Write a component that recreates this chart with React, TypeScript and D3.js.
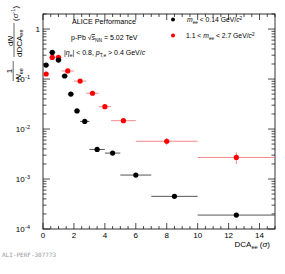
import * as d3 from 'd3';
import * as React from 'react';

// bins: [low, high], value, vertical error
const lowMassBinLo = [0, 0.4, 0.8, 1.2, 1.6, 2.0, 2.4, 3, 4, 5, 7, 10];
const lowMassBinHi = [0.4, 0.8, 1.2, 1.6, 2.0, 2.4, 3, 4, 5, 7, 10, 15];
const lowMassValue = [0.19, 0.34, 0.24, 0.115, 0.05, 0.023, 0.0142, 0.0039, 0.0033, 0.0012, 0.00045, 0.00019];
const lowMassErr = [0.005, 0.01, 0.007, 0.003, 0.0015, 0.0007, 0.0004, 0.0001, 0.0001, 0.00003, 0.00001, 0.000006];

const highMassBinLo = [0, 0.4, 0.8, 1.2, 2.0, 2.8, 3.6, 4.4, 6, 10];
const highMassBinHi = [0.4, 0.8, 1.2, 2.0, 2.8, 3.6, 4.4, 6, 10, 15];
const highMassValue = [0.126, 0.27, 0.27, 0.145, 0.091, 0.052, 0.028, 0.0147, 0.0057, 0.0027];
const highMassErr = [0.008, 0.015, 0.015, 0.008, 0.006, 0.004, 0.002, 0.0013, 0.0009, 0.0007];

const xTicks = [0, 2, 4, 6, 8, 10, 12, 14];
const yDecades = [-4, -3, -2, -1, 0];

const width = 285;
const height = 274;
const left = 43;
const right = 275;
const top = 14;
const bottom = 229;

interface IPoint {
  lo: number;
  hi: number;
  v: number;
  e: number;
}

const build = (lo: number[], hi: number[], v: number[], e: number[]): IPoint[] =>
  lo.map((l, i) => ({ lo: l, hi: hi[i], v: v[i], e: e[i] }));

const lowMass = build(lowMassBinLo, lowMassBinHi, lowMassValue, lowMassErr);
const highMass = build(highMassBinLo, highMassBinHi, highMassValue, highMassErr);

const App: React.FC = () => {
  const x = d3.scaleLinear().domain([0, 15]).range([left, right]);
  const y = d3.scaleLog().domain([1e-4, 2]).range([bottom, top]);

  const font = 'Liberation Sans, Arial, sans-serif';

  const xMinor = d3.range(0, 15.01, 0.5);
  const yMinor: number[] = [];
  for (let d = -4; d <= 0; d++) {
    for (let m = 1; m <= 9; m++) {
      const val = m * Math.pow(10, d);
      if (val <= 2) yMinor.push(val);
    }
  }

  const series = (data: IPoint[], dot: string, bar: string) =>
    data.map((p, i) => {
      const cx = x((p.lo + p.hi) / 2);
      const cy = y(p.v);
      return (
        <g key={i}>
          <line x1={x(p.lo)} x2={x(p.hi)} y1={cy} y2={cy} stroke={bar} strokeWidth={1} />
          <line x1={cx} x2={cx} y1={y(p.v - p.e)} y2={y(p.v + p.e)} stroke={bar} strokeWidth={1} />
          <circle cx={cx} cy={cy} r={2.6} fill={dot} />
        </g>
      );
    });

  return (
    <svg width={width} height={height} style={{ position: 'absolute', left: 0, top: 0, background: '#fff' }}>
      {/* frame */}
      <rect x={left} y={top} width={right - left} height={bottom - top} fill="none" stroke="#000" strokeWidth={0.8} />

      {/* x ticks */}
      {xMinor.map((t) => {
        const major = Math.abs(t % 2) < 1e-6;
        const len = major ? 6 : 3;
        return (
          <g key={'xt' + t}>
            <line x1={x(t)} x2={x(t)} y1={bottom} y2={bottom - len} stroke="#000" strokeWidth={0.7} />
            <line x1={x(t)} x2={x(t)} y1={top} y2={top + len} stroke="#000" strokeWidth={0.7} />
          </g>
        );
      })}
      {xTicks.map((t) => (
        <text key={'xl' + t} x={x(t)} y={bottom + 9} fontSize={8} fontFamily={font} textAnchor="middle">
          {t}
        </text>
      ))}

      {/* y ticks */}
      {yMinor.map((t, i) => {
        const major = Math.abs(Math.log10(t) - Math.round(Math.log10(t))) < 1e-6;
        const len = major ? 7 : 3.5;
        return (
          <g key={'yt' + i}>
            <line x1={left} x2={left + len} y1={y(t)} y2={y(t)} stroke="#000" strokeWidth={0.7} />
            <line x1={right} x2={right - len} y1={y(t)} y2={y(t)} stroke="#000" strokeWidth={0.7} />
          </g>
        );
      })}
      {yDecades.map((d) =>
        d === 0 ? (
          <text key={'yl' + d} x={left - 3} y={y(1) + 3} fontSize={8} fontFamily={font} textAnchor="end">
            1
          </text>
        ) : (
          <text key={'yl' + d} x={left - 13} y={y(Math.pow(10, d)) + 3} fontSize={8} fontFamily={font} textAnchor="end">
            10
            <tspan dx={0.5} dy={-3.5} fontSize={5.5}>
              {String(d)}
            </tspan>
          </text>
        )
      )}

      {/* data */}
      {series(highMass, '#ff0000', '#f08a8a')}
      {series(lowMass, '#000', '#555')}

      {/* annotations */}
      <text x={72} y={24} fontSize={7.2} fontFamily={font}>
        ALICE Performance
      </text>
      <text x={71} y={40} fontSize={7} fontFamily={font}>
        p-Pb √
        <tspan fontStyle="italic" textDecoration="overline">s</tspan>
        <tspan fontSize={4.8} dy={1.8}>NN</tspan>
        <tspan dy={-1.8}> = 5.02 TeV</tspan>
      </text>
      <text x={64} y={55} fontSize={7} fontFamily={font}>
        |
        <tspan fontStyle="italic">η</tspan>
        <tspan fontSize={4.8} dy={1.8}>e</tspan>
        <tspan dy={-1.8}>| &lt; 0.8, </tspan>
        <tspan fontStyle="italic">p</tspan>
        <tspan fontSize={4.8} dy={1.8}>T,e</tspan>
        <tspan dy={-1.8}> &gt; 0.4 GeV/</tspan>
        <tspan fontStyle="italic">c</tspan>
      </text>

      {/* legend */}
      <circle cx={173} cy={19.5} r={2} fill="#000" />
      <text x={187} y={22} fontSize={6.8} fontFamily={font}>
        <tspan fontStyle="italic">m</tspan>
        <tspan fontSize={4.6} dy={1.8}>ee</tspan>
        <tspan dy={-1.8}> &lt; 0.14 GeV/</tspan>
        <tspan fontStyle="italic">c</tspan>
        <tspan fontSize={4.6} dy={-2.5}>2</tspan>
      </text>
      <circle cx={173} cy={35.5} r={2} fill="#ff0000" />
      <text x={186} y={38} fontSize={6.8} fontFamily={font}>
        1.1 &lt;{' '}
        <tspan fontStyle="italic">m</tspan>
        <tspan fontSize={4.6} dy={1.8}>ee</tspan>
        <tspan dy={-1.8}> &lt; 2.7 GeV/</tspan>
        <tspan fontStyle="italic">c</tspan>
        <tspan fontSize={4.6} dy={-2.5}>2</tspan>
      </text>

      {/* axis titles */}
      <text x={270} y={247} fontSize={8} fontFamily={font} textAnchor="end">
        DCA
        <tspan fontSize={5.6} dy={2}>ee</tspan>
        <tspan dy={-2}> (</tspan>
        <tspan fontStyle="italic">σ</tspan>
        <tspan>)</tspan>
      </text>
      <g transform="translate(14, 45) rotate(-90)" fontFamily={font} fontSize={8}>
        {/* 1 / N_ee */}
        <text x={-26} y={-2.5} textAnchor="middle">1</text>
        <line x1={-36} x2={-16} y1={-0.8} y2={-0.8} stroke="#000" strokeWidth={0.6} />
        <text x={-35} y={6.8}>
          <tspan fontStyle="italic">N</tspan>
          <tspan fontSize={5.5} dy={1.8}>ee</tspan>
        </text>
        {/* dN / dDCA_ee */}
        <text x={4} y={-1.5} textAnchor="middle">
          d<tspan fontStyle="italic">N</tspan>
        </text>
        <line x1={-12} x2={22} y1={0} y2={0} stroke="#000" strokeWidth={0.6} />
        <text x={-12} y={7.5}>
          dDCA<tspan fontSize={5.5} dy={1.8}>ee</tspan>
        </text>
        {/* (sigma^-1) */}
        <text x={24} y={3.5}>
          (<tspan fontStyle="italic">σ</tspan>
          <tspan fontSize={5.5} dy={-3}>-1</tspan>
          <tspan dy={3}>)</tspan>
        </text>
      </g>

      {/* watermark */}
      <text x={2} y={257} fontSize={6} fontFamily="DejaVu Sans Mono, monospace" fill="#999">
        ALI-PERF-307773
      </text>
    </svg>
  );
};

export default App;
